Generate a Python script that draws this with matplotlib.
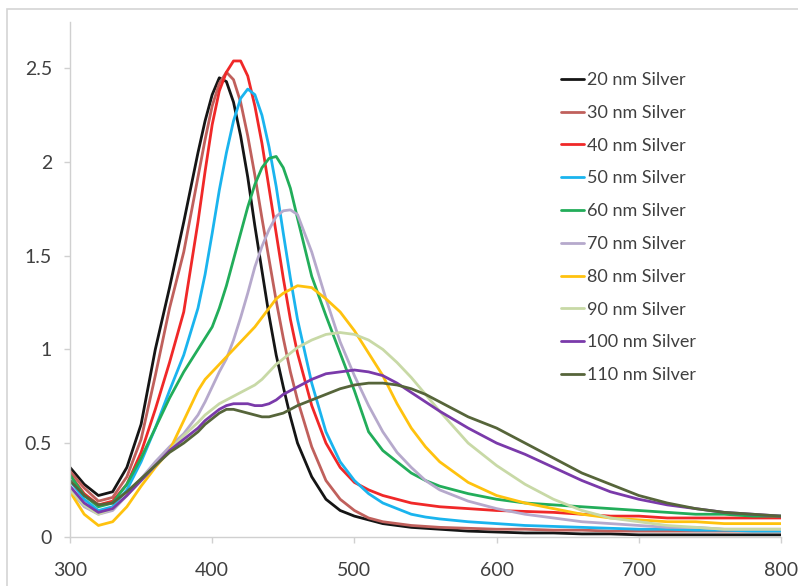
import matplotlib
matplotlib.use("Agg")
import matplotlib.pyplot as plt
from matplotlib.ticker import FuncFormatter
from matplotlib.patches import Rectangle

# Wavelength grid (nm)
wl = [300, 310, 320, 330, 340, 350, 360, 370, 380, 390,
      395, 400, 405, 410, 415, 420, 425, 430, 435, 440, 445, 450, 455, 460,
      470, 480, 490, 500, 510, 520, 530, 540, 550, 560,
      580, 600, 620, 640, 660, 680, 700, 720, 740, 760, 780, 800]

# Extinction values
ag20 = [0.37, 0.28, 0.22, 0.24, 0.37, 0.6, 1.0, 1.33, 1.68, 2.05,
        2.22, 2.36, 2.45, 2.43, 2.32, 2.14, 1.92, 1.66, 1.42, 1.18, 0.97, 0.8, 0.64, 0.5,
        0.32, 0.2, 0.14, 0.11, 0.09, 0.07, 0.06, 0.05, 0.045, 0.04,
        0.03, 0.025, 0.02, 0.02, 0.015, 0.015, 0.01, 0.01, 0.01, 0.01, 0.01, 0.01]
ag30 = [0.35, 0.26, 0.19, 0.21, 0.32, 0.52, 0.86, 1.22, 1.52, 1.92,
        2.12, 2.3, 2.42, 2.48, 2.44, 2.32, 2.14, 1.93, 1.7, 1.48, 1.26, 1.06, 0.88, 0.73,
        0.48, 0.3, 0.2, 0.14, 0.1, 0.08, 0.07, 0.06, 0.055, 0.05,
        0.045, 0.04, 0.04, 0.035, 0.035, 0.03, 0.03, 0.03, 0.03, 0.03, 0.03, 0.03]
ag40 = [0.33, 0.23, 0.17, 0.19, 0.28, 0.45, 0.68, 0.93, 1.2, 1.68,
        1.95, 2.2, 2.38, 2.48, 2.54, 2.54, 2.46, 2.3, 2.1, 1.86, 1.62, 1.38, 1.16, 0.98,
        0.7, 0.5, 0.37, 0.29, 0.25, 0.22, 0.2, 0.18, 0.17, 0.16,
        0.15, 0.14, 0.135, 0.13, 0.12, 0.11, 0.11, 0.1, 0.1, 0.1, 0.1, 0.1]
ag50 = [0.3, 0.2, 0.14, 0.16, 0.25, 0.4, 0.58, 0.78, 0.97, 1.22,
        1.4, 1.62, 1.85, 2.05, 2.22, 2.34, 2.39, 2.36, 2.25, 2.08, 1.87, 1.62, 1.38, 1.16,
        0.82, 0.56, 0.4, 0.3, 0.23, 0.18, 0.15, 0.12, 0.105, 0.095,
        0.08, 0.07, 0.06, 0.055, 0.05, 0.045, 0.04, 0.04, 0.035, 0.035, 0.03, 0.03]
ag60 = [0.33, 0.22, 0.16, 0.18, 0.28, 0.42, 0.58, 0.74, 0.88, 1.0,
        1.06, 1.12, 1.22, 1.34, 1.48, 1.62, 1.76, 1.88, 1.97, 2.02, 2.03, 1.97, 1.86, 1.7,
        1.39, 1.18, 0.98, 0.78, 0.56, 0.46, 0.4, 0.34, 0.3, 0.27,
        0.23, 0.2, 0.18, 0.17, 0.16, 0.15, 0.14, 0.13, 0.12, 0.12, 0.11, 0.11]
ag70 = [0.25, 0.16, 0.12, 0.14, 0.22, 0.31, 0.4, 0.48, 0.55, 0.65,
        0.72, 0.8, 0.88, 0.95, 1.05, 1.17, 1.3, 1.44, 1.55, 1.64, 1.71, 1.74, 1.745, 1.72,
        1.52, 1.27, 1.04, 0.86, 0.7, 0.56, 0.45, 0.37, 0.3, 0.25,
        0.19, 0.15, 0.12, 0.1, 0.08, 0.07, 0.06, 0.05, 0.05, 0.04, 0.04, 0.04]
ag80 = [0.24, 0.12, 0.06, 0.08, 0.16, 0.27, 0.37, 0.46, 0.62, 0.78,
        0.84, 0.88, 0.92, 0.96, 1.0, 1.04, 1.08, 1.12, 1.17, 1.22, 1.27, 1.3, 1.32, 1.34,
        1.33, 1.27, 1.2, 1.1, 0.98, 0.86, 0.71, 0.58, 0.48, 0.4,
        0.29, 0.22, 0.18, 0.15, 0.12, 0.1, 0.09, 0.08, 0.08, 0.07, 0.07, 0.07]
ag90 = [0.25, 0.17, 0.12, 0.15, 0.22, 0.3, 0.38, 0.46, 0.54, 0.61,
        0.65, 0.68, 0.71, 0.73, 0.75, 0.77, 0.79, 0.81, 0.84, 0.88, 0.92, 0.95, 0.98, 1.01,
        1.05, 1.08, 1.09, 1.08, 1.05, 1.0, 0.93, 0.85, 0.76, 0.67,
        0.5, 0.38, 0.28, 0.2, 0.14, 0.1, 0.08, 0.06, 0.05, 0.04, 0.04, 0.04]
ag100 = [0.27, 0.18, 0.13, 0.15, 0.22, 0.3, 0.38, 0.46, 0.52, 0.58,
         0.62, 0.65, 0.68, 0.7, 0.71, 0.71, 0.71, 0.7, 0.7, 0.71, 0.73, 0.76, 0.78, 0.8,
         0.84, 0.87, 0.88, 0.89, 0.88, 0.86, 0.82, 0.77, 0.72, 0.67,
         0.58, 0.5, 0.44, 0.37, 0.3, 0.24, 0.2, 0.17, 0.15, 0.13, 0.12, 0.11]
ag110 = [0.3, 0.22, 0.17, 0.18, 0.24, 0.31, 0.38, 0.45, 0.5, 0.56,
         0.6, 0.63, 0.66, 0.68, 0.68, 0.67, 0.66, 0.65, 0.64, 0.64, 0.65, 0.66, 0.68, 0.7,
         0.73, 0.76, 0.79, 0.81, 0.82, 0.82, 0.81, 0.79, 0.76, 0.72,
         0.64, 0.58, 0.5, 0.42, 0.34, 0.28, 0.22, 0.18, 0.15, 0.13, 0.12, 0.11]

labels = ["20 nm Silver", "30 nm Silver", "40 nm Silver", "50 nm Silver", "60 nm Silver",
          "70 nm Silver", "80 nm Silver", "90 nm Silver", "100 nm Silver", "110 nm Silver"]
series = [ag20, ag30, ag40, ag50, ag60, ag70, ag80, ag90, ag100, ag110]
colors = ["#151515", "#c0605c", "#f02828", "#1ab4ee", "#22ad5a",
          "#b6a9cc", "#ffc20e", "#c8d9a6", "#7a3aaa", "#56653a"]

plt.rcParams['font.family'] = ['Lato', 'DejaVu Sans']

fig = plt.figure(figsize=(7.98, 5.86), dpi=100)
ax = fig.add_axes([0.0877, 0.0841, 0.891, 0.879])

# light grey chart-area border (cut at right/bottom like the reference)
fig.patches.append(Rectangle((7 / 798, -0.05), 1.2, 1 - 9 / 586 + 0.05,
                             transform=fig.transFigure, fill=False,
                             edgecolor="#d4d4d4", lw=1.2))

for vals, lab, c in zip(series, labels, colors):
    ax.plot(wl, vals, color=c, lw=2.0, label=lab, solid_capstyle="round",
            solid_joinstyle="round")

ax.set_xlim(300, 800)
ax.set_ylim(0, 2.75)
ax.set_xticks([300, 400, 500, 600, 700, 800])
ax.set_yticks([0, 0.5, 1, 1.5, 2, 2.5])
ax.yaxis.set_major_formatter(FuncFormatter(lambda v, p: "%g" % v))

for s in ["top", "right"]:
    ax.spines[s].set_visible(False)
for s in ["left", "bottom"]:
    ax.spines[s].set_color("#d0d0d0")
    ax.spines[s].set_linewidth(1.0)

ax.tick_params(axis="both", colors="#d0d0d0", labelcolor="#404040",
               labelsize=14, length=4, width=1)
ax.tick_params(axis="y", pad=9)
ax.tick_params(axis="x", pad=14)

leg = fig.legend(loc="upper left", bbox_to_anchor=(0.703, 0.877), frameon=False,
                 fontsize=13, handlelength=1.28, handletextpad=0.15,
                 labelspacing=0.93, borderpad=0, borderaxespad=0)
for t in leg.get_texts():
    t.set_color("#404040")

fig.savefig("out.png", dpi=100)
